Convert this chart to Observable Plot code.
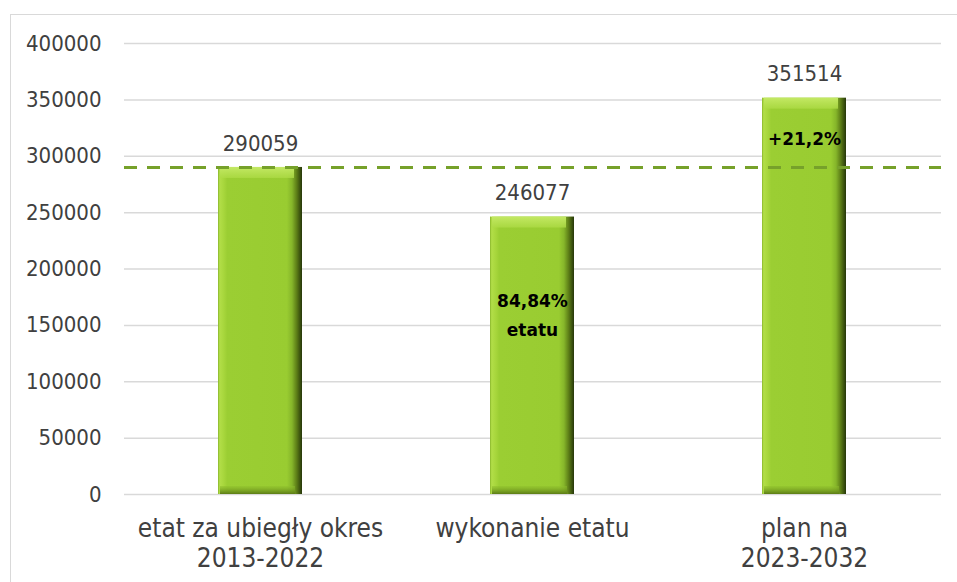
<!DOCTYPE html>
<html>
<head>
<meta charset="utf-8">
<script src="https://cdn.jsdelivr.net/npm/d3@7"></script>
<script src="https://cdn.jsdelivr.net/npm/@observablehq/plot@0.6"></script>
<style>
  html, body { margin: 0; padding: 0; background: #fff; width: 957px; height: 582px; overflow: hidden; }
  #wrap { position: relative; width: 957px; height: 582px; }
  #frame { position: absolute; left: 10px; top: 14px; width: 1000px; height: 1000px; border: 1.5px solid #d9d9d9; box-sizing: border-box; }
  #chart { position: absolute; left: 0; top: 0; }
</style>
</head>
<body>
<div id="wrap"><div id="frame"></div><div id="chart"></div></div>
<script>
const categories = ["etat za ubiegły okres\n2013-2022", "wykonanie etatu", "plan na\n2023-2032"];
const values = [290059, 246077, 351514];
const referenceValue = 290059;
const yTicks = [0, 50000, 100000, 150000, 200000, 250000, 300000, 350000, 400000];
const innerLabels = [
  {cat: "wykonanie etatu", y: 171200, text: "84,84%"},
  {cat: "wykonanie etatu", y: 145450, text: "etatu"},
  {cat: "plan na\n2023-2032", y: 314900, text: "+21,2%"}
];

const data = categories.map((c, i) => ({cat: c, value: values[i]}));
const font = "'DejaVu Sans Condensed', 'DejaVu Sans', sans-serif";

const defs = () => {
  const g = d3.create("svg:defs");
  const h = g.append("linearGradient").attr("id", "barGradH").attr("x1", 0).attr("x2", 1).attr("y1", 0).attr("y2", 0);
  [["0%", "#88b52c"], ["2%", "#b2de48"], ["7%", "#a7d63c"], ["11%", "#9bce33"], ["82%", "#99cc31"], ["88%", "#86b62a"], ["94%", "#5a7a16"], ["100%", "#26370a"]]
    .forEach(([o, c]) => h.append("stop").attr("offset", o).attr("stop-color", c));
  const v = g.append("linearGradient").attr("id", "barGradV").attr("x1", 0).attr("x2", 0).attr("y1", 0).attr("y2", 1);
  [["0%", "#c4e965", 1], ["100%", "#addb45", 0.8]]
    .forEach(([o, c, op]) => v.append("stop").attr("offset", o).attr("stop-color", c).attr("stop-opacity", op));
  const b = g.append("linearGradient").attr("id", "barGradB").attr("x1", 0).attr("x2", 0).attr("y1", 0).attr("y2", 1);
  [["0%", "#8fc02c", 0.5], ["100%", "#5c7c16", 1]]
    .forEach(([o, c, op]) => b.append("stop").attr("offset", o).attr("stop-color", c).attr("stop-opacity", op));
  return g.node();
};

const chart = Plot.plot({
  width: 957,
  height: 582,
  marginTop: 43,
  marginBottom: 88,
  marginLeft: 124,
  marginRight: 16,
  style: {fontFamily: font, fontSize: "22px", color: "#404040", background: "transparent"},
  x: {domain: categories, paddingInner: 0.69, paddingOuter: 0.345, label: null},
  y: {domain: [0, 400000], label: null},
  marks: [
    defs,
    Plot.gridY(yTicks, {stroke: "#d9d9d9", strokeOpacity: 1, strokeWidth: 1.5}),
    Plot.axisY(yTicks, {tickSize: 0, tickPadding: 23, tickFormat: d => String(d), fontSize: 22, fill: "#404040", label: null}),
    Plot.axisX({tickSize: 0, tickPadding: 21, fontSize: 26, fill: "#404040", lineHeight: 1.16, label: null}),
    Plot.barY(data, {x: "cat", y: "value", fill: "url(#barGradH)"}),
    Plot.barY(data, {x: "cat", y1: "value", y2: "value", insetBottom: -11, insetLeft: 2, insetRight: 8, fill: "url(#barGradV)"}),
    Plot.barY(data, {x: "cat", y1: 0, y2: 0, insetTop: -8, insetLeft: 2, insetRight: 7, fill: "url(#barGradB)"}),
    Plot.ruleY([referenceValue], {stroke: "#76a12a", strokeWidth: 3, strokeDasharray: "13,10"}),
    Plot.text(data, {x: "cat", y: "value", text: d => String(d.value), dy: -24, fontSize: 22, fill: "#404040"}),
    Plot.text(innerLabels, {x: "cat", y: "y", text: "text", fontSize: 17, fontWeight: "bold", fill: "#000", fontFamily: "'DejaVu Sans', sans-serif"})
  ]
});
document.getElementById("chart").appendChild(chart);
</script>
</body>
</html>
